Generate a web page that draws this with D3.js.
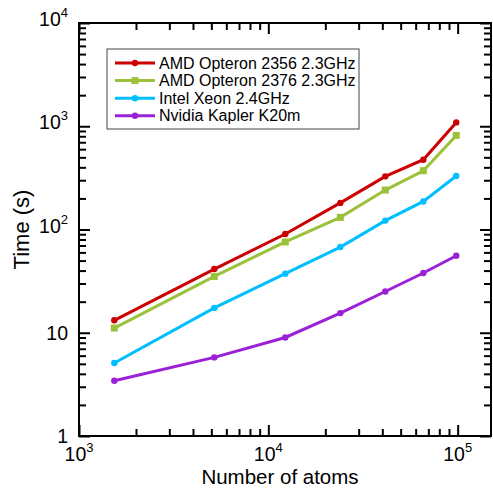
<!DOCTYPE html>
<html>
<head>
<meta charset="utf-8">
<script src="https://cdn.jsdelivr.net/npm/d3@7"></script>
<style>
  body { margin: 0; background: #fff; }
  text { font-family: "Liberation Sans", Arial, sans-serif; }
</style>
</head>
<body>
<script>
"use strict"

/* dati */
const atoms = [1536, 5184, 12288, 24000, 41472, 65856, 98304];
const opteron2356 = [13.2, 41.4, 90.4, 181, 327, 474, 1090];
const opteron2376 = [11.1, 35.1, 75.7, 131, 241, 371, 815];
const xeon = [5.1, 17.4, 37.3, 67.6, 122, 187, 330];
const kepler = [3.43, 5.77, 9.0, 15.5, 25.1, 37.9, 55.7];

const seriesNames = ["AMD Opteron 2356 2.3GHz", "AMD Opteron 2376 2.3GHz", "Intel Xeon 2.4GHz", "Nvidia Kapler K20m"];
const seriesColors = ["#cc0000", "#9bc23a", "#00bfff", "#9b21d6"];
const seriesMarkers = ["circle", "square", "circle", "circle"];
const seriesValues = [opteron2356, opteron2376, xeon, kepler];

const xMajor = [1e3, 1e4, 1e5];
const yMajor = [1, 10, 100, 1e3, 1e4];
const xLabelExp = ["3", "4", "5"];
const yLabelText = ["1", "10", "10", "10", "10"];
const yLabelExp = ["", "", "2", "3", "4"];

const larghezza = 493, altezza = 489;
const area = { left: 79, right: 491, top: 23, bottom: 436 };

const x = d3.scaleLog().domain([1e3, 1.5e5]).range([area.left, area.right]);
const y = d3.scaleLog().domain([1, 1e4]).range([area.bottom, area.top]);

/* tick minori: 2..9 per ogni decade, dentro il dominio */
function minori(scala) {
    const d = scala.domain();
    const out = [];
    for (let p = Math.floor(Math.log10(d[0])); p <= Math.ceil(Math.log10(d[1])); p++) {
        for (let m = 2; m <= 9; m++) {
            const v = m * Math.pow(10, p);
            if (v > d[0] && v < d[1]) out.push(v);
        }
    }
    return out;
}

const svg = d3.select("body").append("svg")
    .attr("width", larghezza)
    .attr("height", altezza);

const maj = 11, min = 7;

/* assi con tick verso l'interno, sui quattro lati */
function asse(gen, valori, size, tx, ty) {
    svg.append("g")
        .attr("transform", "translate(" + tx + "," + ty + ")")
        .call(gen.tickValues(valori).tickSize(size).tickFormat(""))
        .call(g => g.select(".domain").remove())
        .selectAll("line").attr("stroke", "#000").attr("stroke-width", 2);
}
asse(d3.axisBottom(x), xMajor, -maj, 0, area.bottom);
asse(d3.axisBottom(x), minori(x), -min, 0, area.bottom);
asse(d3.axisTop(x), xMajor, -maj, 0, area.top);
asse(d3.axisTop(x), minori(x), -min, 0, area.top);
asse(d3.axisLeft(y), yMajor, -maj, area.left, 0);
asse(d3.axisLeft(y), minori(y), -min, area.left, 0);
asse(d3.axisRight(y), yMajor, -maj, area.right, 0);
asse(d3.axisRight(y), minori(y), -min, area.right, 0);

/* cornice */
svg.append("rect")
    .attr("x", area.left).attr("y", area.top)
    .attr("width", area.right - area.left)
    .attr("height", area.bottom - area.top)
    .attr("fill", "none").attr("stroke", "#000").attr("stroke-width", 2);

/* etichette asse x */
const xl = svg.append("g").selectAll("text")
    .data(xMajor).enter().append("text")
    .attr("x", d => x(d))
    .attr("y", 461)
    .attr("text-anchor", "middle")
    .attr("font-size", 19.5);
xl.append("tspan").text("10");
xl.append("tspan").attr("dy", -9).attr("font-size", 13).text((d, i) => xLabelExp[i]);

/* etichette asse y */
const yl = svg.append("g").selectAll("text")
    .data(yMajor).enter().append("text")
    .attr("x", 68)
    .attr("y", (d, i) => y(d) + (yLabelExp[i] ? 3 : 7))
    .attr("text-anchor", "end")
    .attr("font-size", 19.5);
yl.append("tspan").text((d, i) => yLabelText[i]);
yl.append("tspan").attr("dy", -9).attr("font-size", 13).text((d, i) => yLabelExp[i]);

/* titoli */
svg.append("text")
    .attr("x", 280)
    .attr("y", 484)
    .attr("text-anchor", "middle")
    .attr("font-size", 20.5)
    .text("Number of atoms");

svg.append("text")
    .attr("transform", "translate(29," + (area.top + area.bottom) / 2 + ") rotate(-90)")
    .attr("text-anchor", "middle")
    .attr("font-size", 22)
    .text("Time (s)");

/* serie */
const linea = d3.line()
    .x((d, i) => x(atoms[i]))
    .y(d => y(d));

seriesValues.forEach(function (vals, k) {
    const g = svg.append("g");
    g.append("path")
        .attr("d", linea(vals))
        .attr("fill", "none")
        .attr("stroke", seriesColors[k])
        .attr("stroke-width", 3);
    if (seriesMarkers[k] == "square") {
        g.selectAll("rect").data(vals).enter().append("rect")
            .attr("x", (d, i) => x(atoms[i]) - 3.5)
            .attr("y", d => y(d) - 3.5)
            .attr("width", 7).attr("height", 7)
            .attr("fill", seriesColors[k]);
    } else {
        g.selectAll("circle").data(vals).enter().append("circle")
            .attr("cx", (d, i) => x(atoms[i]))
            .attr("cy", d => y(d))
            .attr("r", 3.2)
            .attr("fill", seriesColors[k]);
    }
});

/* legenda */
const leg = svg.append("g");
leg.append("rect")
    .attr("x", 107).attr("y", 49)
    .attr("width", 252).attr("height", 80)
    .attr("fill", "#fff").attr("stroke", "#444").attr("stroke-width", 1);

const voci = leg.selectAll("g.voce").data(seriesNames).enter().append("g")
    .attr("class", "voce")
    .attr("transform", (d, i) => "translate(0," + (63 + i * 17.6) + ")");
voci.append("line")
    .attr("x1", 115).attr("x2", 155)
    .attr("stroke", (d, i) => seriesColors[i])
    .attr("stroke-width", 3);
voci.each(function (d, i) {
    const v = d3.select(this);
    if (seriesMarkers[i] == "square") {
        v.append("rect").attr("x", 131.5).attr("y", -3.5)
            .attr("width", 7).attr("height", 7).attr("fill", seriesColors[i]);
    } else {
        v.append("circle").attr("cx", 135).attr("r", 3.2).attr("fill", seriesColors[i]);
    }
});
voci.append("text")
    .attr("x", 159)
    .attr("y", 5.5)
    .attr("font-size", 16)
    .text(d => d);
</script>
</body>
</html>
